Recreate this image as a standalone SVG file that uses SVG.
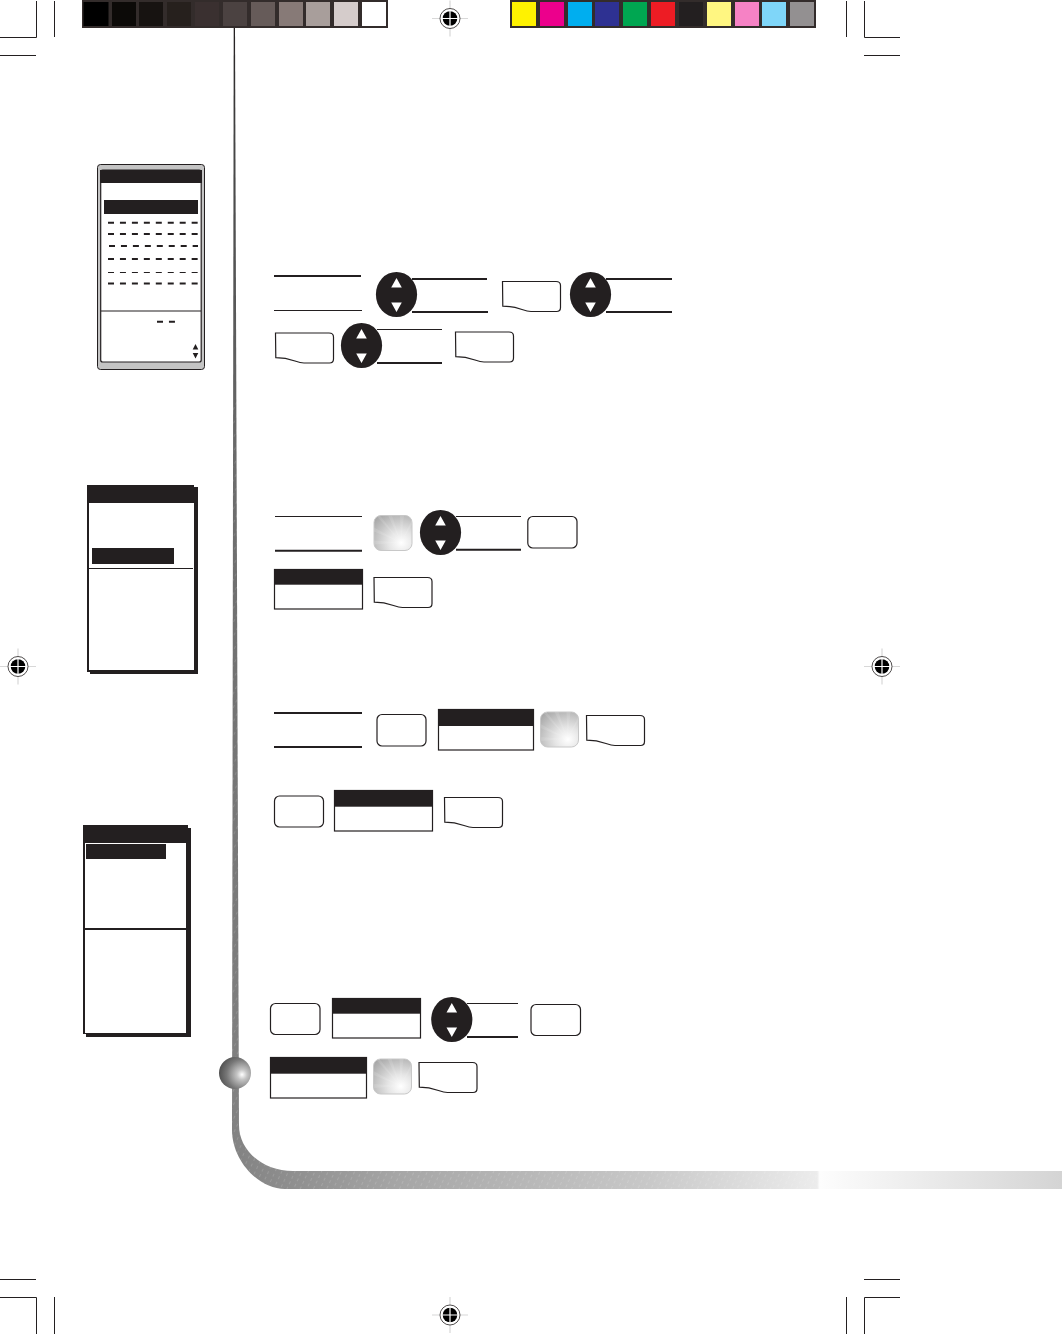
<svg xmlns="http://www.w3.org/2000/svg" width="1062" height="1334" viewBox="0 0 1062 1334">
<style>
.crop{stroke:#231f20;stroke-width:1;fill:none}
.k{fill:#231f20}
.w{fill:#fff}
.thin{stroke:#231f20;stroke-width:1.2;fill:none}
.thick{stroke:#231f20;stroke-width:2;fill:none}
.btn{fill:#fff;stroke:#231f20;stroke-width:1.2}
.hdr{fill:#fff;stroke:#231f20;stroke-width:1.2}
.dash{stroke:#231f20;stroke-width:2;stroke-dasharray:6 5.95;fill:none}
</style>
<defs>
<radialGradient id="gb" gradientUnits="objectBoundingBox" cx="0.72" cy="0.78" r="0.95">
<stop offset="0" stop-color="#ffffff"/><stop offset="0.35" stop-color="#e6e6e6"/><stop offset="1" stop-color="#a8a8a8"/>
</radialGradient>
<radialGradient id="sph" cx="0.72" cy="0.55" r="0.8">
<stop offset="0" stop-color="#ffffff"/><stop offset="0.2" stop-color="#c4c4c4"/><stop offset="0.6" stop-color="#777"/><stop offset="1" stop-color="#444"/>
</radialGradient>
<linearGradient id="railg" gradientUnits="userSpaceOnUse" x1="0" y1="28" x2="0" y2="1135">
<stop offset="0" stop-color="#231f20"/><stop offset="0.1" stop-color="#444"/><stop offset="0.4" stop-color="#6c6c6c"/><stop offset="1" stop-color="#828282"/>
</linearGradient>
<linearGradient id="barg" gradientUnits="userSpaceOnUse" x1="232" y1="0" x2="1062" y2="0">
<stop offset="0" stop-color="#828282"/><stop offset="0.2" stop-color="#a6a6a6"/><stop offset="0.5" stop-color="#c8c8c8"/><stop offset="0.705" stop-color="#ececec"/><stop offset="0.708" stop-color="#fdfdfd"/><stop offset="1" stop-color="#d4d4d4"/>
</linearGradient>
<pattern id="hatch" width="6" height="6" patternUnits="userSpaceOnUse" patternTransform="rotate(25)">
<rect x="0" y="0" width="1" height="3" fill="#fff" opacity="0.14"/>
</pattern>
<clipPath id="gbclip"><rect x="0" y="0" width="38" height="35" rx="7"/></clipPath>
<g id="gbtn">
<rect x="0" y="0" width="38" height="35" rx="7" fill="url(#gb)" stroke="#c8c8c8" stroke-width="1"/>
<path clip-path="url(#gbclip)" fill="#fff" opacity="0.12" d="M27,27 L2,0 H6 Z M27,27 L14,0 H18 Z M27,27 L26,0 H30 Z M27,27 L38,4 V9 Z M27,27 L0,12 V16 Z M27,27 L0,25 V29 Z"/>
</g>
<g id="updown">
<ellipse cx="0" cy="0" rx="20.6" ry="22.6" class="k"/>
<path class="w" d="M0,-16.5 L5.3,-7 H-5.3 Z M0,17.5 L5.3,8 H-5.3 Z"/>
</g>
<path id="soft" class="btn" d="M0.5,0.5 H54 Q58.5,0.5 58.5,4.5 V26.5 Q58.5,30.5 54.5,30.5 H29 C21,30.5 17,25.2 0.8,25.2 Z"/>
<g id="reg">
<path d="M-18,0 H18 M0,-18 V18" stroke="#d8d8d8" stroke-width="1.2" fill="none"/>
<circle r="10" fill="#fff" stroke="#231f20" stroke-width="0.8"/>
<circle r="7.3" fill="#000"/>
<path d="M-8,0 H8 M0,-8 V8" stroke="#fff" stroke-width="1.2"/>
</g>
</defs>
<rect width="1062" height="1334" fill="#fff"/>

<g id="crop-marks" class="crop">
<path d="M0,37.5 H36.5 V1 M54.5,1 V37 M0,55.5 H36"/>
<path d="M900,37.5 H864.5 V1 M846.5,1 V37 M864,55.5 H900"/>
<path d="M0,1297.5 H36.5 V1334 M54.5,1297 V1334 M0,1279.5 H36"/>
<path d="M900,1297.5 H864.5 V1334 M846.5,1297 V1334 M864,1279.5 H900"/>
</g>

<g id="gray-bar">
<rect x="82" y="0" width="306" height="28" fill="#332c2b"/>
<rect x="83.500" y="2" width="25" height="24" fill="#000"/>
<rect x="112" y="2" width="24" height="24" fill="#0c0a08"/>
<rect x="139" y="2" width="24" height="24" fill="#171311"/>
<rect x="167" y="2" width="24" height="24" fill="#26201d"/>
<rect x="195" y="2" width="24" height="24" fill="#3a3030"/>
<rect x="223" y="2" width="24" height="24" fill="#4b4241"/>
<rect x="251" y="2" width="24" height="24" fill="#665b59"/>
<rect x="279" y="2" width="24" height="24" fill="#877a77"/>
<rect x="306" y="2" width="24" height="24" fill="#a89e9b"/>
<rect x="334" y="2" width="24" height="24" fill="#d5cccb"/>
<rect x="362" y="2" width="24" height="24" fill="#fff"/>
</g>
<g id="colour-bar">
<rect x="510" y="0" width="306" height="28" fill="#332c2b"/>
<rect x="512" y="2" width="24" height="24" fill="#fff200"/>
<rect x="540" y="2" width="24" height="24" fill="#ec008c"/>
<rect x="568" y="2" width="24" height="24" fill="#00aeef"/>
<rect x="595" y="2" width="24" height="24" fill="#2e3192"/>
<rect x="623" y="2" width="24" height="24" fill="#00a651"/>
<rect x="651" y="2" width="24" height="24" fill="#ed1c24"/>
<rect x="679" y="2" width="24" height="24" fill="#231f20"/>
<rect x="707" y="2" width="24" height="24" fill="#fff681"/>
<rect x="735" y="2" width="24" height="24" fill="#f682c5"/>
<rect x="762" y="2" width="24" height="24" fill="#7fd6f9"/>
<rect x="790" y="2" width="24" height="24" fill="#939091"/>
</g>
<g id="registration">
<use href="#reg" x="450" y="18.500"/>
<use href="#reg" x="18" y="666.500"/>
<use href="#reg" x="882" y="666.500"/>
<use href="#reg" x="450" y="1315"/>
</g>

<g id="rail">
<path fill="url(#barg)" d="M232,1130 C232,1160 258,1189 285,1189 H1062 V1171 H293 C262,1171 239,1150 239,1125 Z"/>
<path fill="url(#railg)" d="M233.700,28 H235 L239,1130 H232 Z"/>
<path fill="url(#hatch)" d="M233,400 L239,400 V1125 C239,1150 262,1171 293,1171 H820 V1189 H285 C258,1189 232,1160 232,1130 Z"/>
<circle cx="235" cy="1073" r="16" fill="url(#sph)"/>
</g>

<g id="screen-1">
<rect x="97.500" y="164.500" width="107" height="205" rx="3" fill="#c4c4c4" stroke="#231f20" stroke-width="1"/>
<rect x="100.700" y="170" width="100.500" height="192" rx="2" fill="#fff" stroke="#231f20" stroke-width="1.2"/>
<rect x="100" y="170" width="102" height="13" class="k"/>
<rect x="104" y="200" width="94" height="14" class="k"/>
<path class="dash" d="M108,222.700 H198 M108,234 H198 M109,246 H198 M108,259 H198"/>
<path class="dash" style="stroke-width:1.1" d="M108,272.500 H198"/>
<path class="dash" d="M108,283.500 H198"/>
<path class="thin" d="M101,311 H201"/>
<path class="dash" d="M157,321.700 H175"/>
<path class="k" d="M195.500,344 L198.300,349.500 H192.700 Z M195.500,358.500 L198.300,353 H192.700 Z"/>
</g>

<g id="screen-2">
<rect x="90" y="487" width="108" height="187" class="k"/>
<rect x="87" y="485" width="107" height="187" class="k"/>
<rect x="89" y="503" width="105" height="167" class="w"/>
<rect x="92" y="548" width="82" height="16" class="k"/>
<path class="thin" d="M89,568.500 H193"/>
</g>

<g id="screen-3">
<rect x="86" y="828" width="105" height="209" class="k"/>
<rect x="83" y="825" width="105" height="209" class="k"/>
<rect x="85" y="843" width="101" height="190" class="w"/>
<rect x="86" y="844" width="80" height="15" class="k"/>
<path class="thick" d="M85,929 H186"/>
</g>

<g id="connectors">
<path class="thick" d="M274,276 H361"/>
<path class="thin" d="M274,310.500 H362"/>
<path class="thick" d="M412,279 H487 M412,312 H488"/>
<path class="thick" d="M606,279 H672 M606,312 H672"/>
<path class="thin" d="M377,329.500 H442"/>
<path class="thick" d="M377,363 H442"/>
<path class="thin" d="M275,516.500 H362"/>
<path class="thick" d="M275,550.700 H362"/>
<path class="thin" d="M456,516.500 H521"/>
<path class="thick" d="M456,549.700 H521"/>
<path class="thick" d="M274,713 H362 M274,747 H362"/>
<path class="thin" d="M467,1003.500 H518"/>
<path class="thick" d="M467,1037 H518"/>
</g>

<g id="updown-1"><use href="#updown" x="396.500" y="294.500"/></g>
<g id="softkey-1"><use href="#soft" x="502" y="281"/></g>
<g id="updown-2"><use href="#updown" x="590.500" y="294.500"/></g>
<g id="softkey-2"><use href="#soft" x="275" y="332.500"/></g>
<g id="updown-3"><use href="#updown" x="361.500" y="345.500"/></g>
<g id="softkey-3"><use href="#soft" x="455" y="331.500"/></g>

<g id="gray-button-1"><use href="#gbtn" x="374" y="515.500"/></g>
<g id="updown-4"><use href="#updown" x="440.500" y="532.500"/></g>
<g id="button-1"><rect x="527.800" y="516.500" width="49.200" height="31.500" rx="5" class="btn"/></g>
<g id="header-1"><rect x="274.500" y="569.500" width="88" height="39.500" class="hdr"/><rect x="274" y="569" width="89" height="15.700" class="k"/></g>
<g id="softkey-4"><use href="#soft" x="373.500" y="577"/></g>

<g id="button-2"><rect x="377" y="714.500" width="49" height="31.500" rx="5" class="btn"/></g>
<g id="header-2"><rect x="438.500" y="709.500" width="95" height="40.500" class="hdr"/><rect x="438" y="709" width="96" height="17" class="k"/></g>
<g id="gray-button-2"><use href="#gbtn" x="540.500" y="712"/></g>
<g id="softkey-5"><use href="#soft" x="586" y="715"/></g>

<g id="button-3"><rect x="274.500" y="796" width="49" height="31" rx="5" class="btn"/></g>
<g id="header-3"><rect x="334.500" y="790.500" width="98" height="40.500" class="hdr"/><rect x="334" y="790" width="99" height="16.700" class="k"/></g>
<g id="softkey-6"><use href="#soft" x="444" y="797"/></g>

<g id="button-4"><rect x="270.500" y="1003.500" width="49.500" height="31" rx="5" class="btn"/></g>
<g id="header-4"><rect x="332.500" y="998.500" width="88" height="39.500" class="hdr"/><rect x="332" y="998" width="89" height="15.700" class="k"/></g>
<g id="updown-5"><use href="#updown" x="451.800" y="1019.500"/></g>
<g id="button-5"><rect x="531" y="1004.500" width="49.500" height="31" rx="5" class="btn"/></g>

<g id="header-5"><rect x="270.500" y="1057.500" width="96" height="40.500" class="hdr"/><rect x="270" y="1057" width="97" height="16.700" class="k"/></g>
<g id="gray-button-3"><use href="#gbtn" x="373.500" y="1059"/></g>
<g id="softkey-7"><use href="#soft" x="418.500" y="1062"/></g>
</svg>
